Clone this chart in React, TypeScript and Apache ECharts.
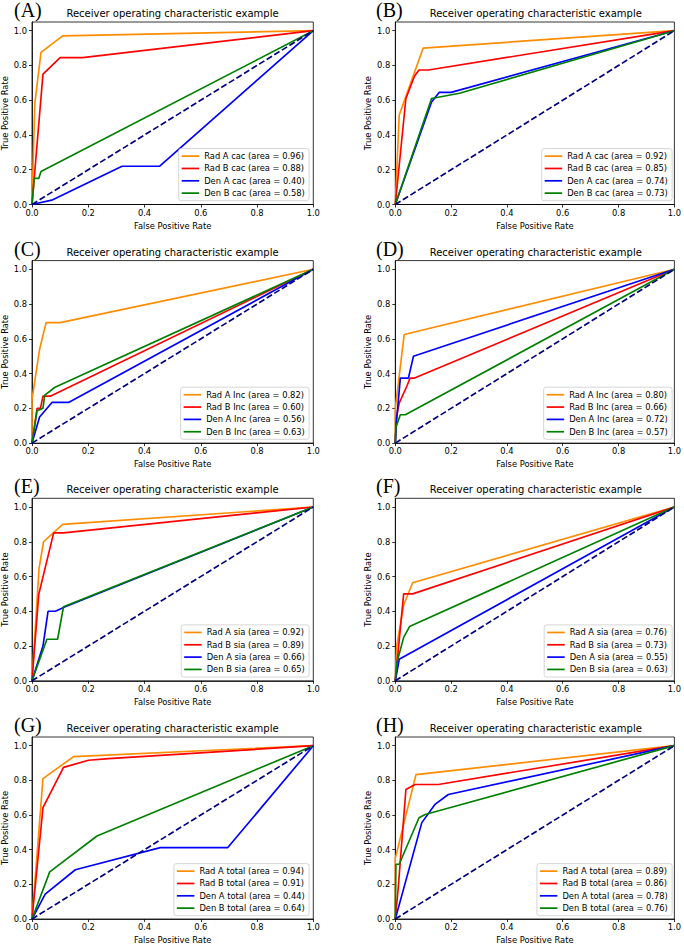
import React, { useEffect, useRef } from "react";
import * as echarts from "echarts";

type Pt = [number, number];

// ---------- data ----------
const panelLetters = ["(A)", "(B)", "(C)", "(D)", "(E)", "(F)", "(G)", "(H)"];
const featureNames = ["cac", "cac", "Inc", "Inc", "sia", "sia", "total", "total"];
const readerNames = ["Rad A", "Rad B", "Den A", "Den B"];
const chartTitle = "Receiver operating characteristic example";
const xTicks = [0, 0.2, 0.4, 0.6, 0.8, 1.0];
const yTicks = [0, 0.2, 0.4, 0.6, 0.8, 1.0];

const areasA = [0.96, 0.88, 0.4, 0.58];
const areasB = [0.92, 0.85, 0.74, 0.73];
const areasC = [0.82, 0.6, 0.56, 0.63];
const areasD = [0.8, 0.66, 0.72, 0.57];
const areasE = [0.92, 0.89, 0.66, 0.65];
const areasF = [0.76, 0.73, 0.55, 0.63];
const areasG = [0.94, 0.91, 0.44, 0.64];
const areasH = [0.89, 0.86, 0.78, 0.76];

const A_radA: Pt[] = [[0, 0], [0.01, 0.58], [0.032, 0.875], [0.109, 0.97], [1, 1]];
const A_radB: Pt[] = [[0, 0], [0.039, 0.75], [0.1, 0.845], [0.18, 0.845], [1, 1]];
const A_denA: Pt[] = [[0, 0], [0.07, 0.025], [0.32, 0.22], [0.453, 0.22], [1, 1]];
const A_denB: Pt[] = [[0, 0], [0.008, 0.15], [0.024, 0.15], [0.032, 0.19], [1, 1]];

const B_radA: Pt[] = [[0, 0], [0.014, 0.515], [0.1, 0.9], [1, 1]];
const B_radB: Pt[] = [[0, 0], [0.038, 0.61], [0.069, 0.739], [0.085, 0.774], [0.119, 0.774], [1, 1]];
const B_denA: Pt[] = [[0, 0], [0.13, 0.59], [0.157, 0.645], [0.2, 0.645], [1, 1]];
const B_denB: Pt[] = [[0, 0], [0.13, 0.61], [0.23, 0.64], [1, 1]];

const C_radA: Pt[] = [[0, 0], [0, 0.25], [0.027, 0.54], [0.05, 0.693], [0.1, 0.693], [1, 1]];
const C_radB: Pt[] = [[0, 0], [0.018, 0.2], [0.03, 0.2], [0.039, 0.27], [0.065, 0.27], [1, 1]];
const C_denA: Pt[] = [[0, 0], [0.027, 0.15], [0.071, 0.234], [0.13, 0.234], [1, 1]];
const C_denB: Pt[] = [[0, 0], [0.018, 0.186], [0.039, 0.2], [0.045, 0.276], [0.065, 0.3], [0.08, 0.32], [1, 1]];

const D_radA: Pt[] = [[0, 0], [0, 0.2], [0.032, 0.625], [1, 1]];
const D_radB: Pt[] = [[0, 0], [0.004, 0.15], [0.014, 0.23], [0.042, 0.33], [0.053, 0.374], [0.069, 0.374], [1, 1]];
const D_denA: Pt[] = [[0, 0], [0.004, 0.12], [0.018, 0.374], [0.047, 0.374], [0.065, 0.5], [1, 1]];
const D_denB: Pt[] = [[0, 0], [0.002, 0.09], [0.018, 0.163], [0.036, 0.163], [1, 1]];

const E_radA: Pt[] = [[0, 0], [0.025, 0.646], [0.041, 0.8], [0.109, 0.9], [1, 1]];
const E_radB: Pt[] = [[0, 0], [0.024, 0.497], [0.077, 0.851], [0.112, 0.851], [1, 1]];
const E_denA: Pt[] = [[0, 0], [0.039, 0.2], [0.057, 0.4], [0.083, 0.4], [0.118, 0.426], [1, 1]];
const E_denB: Pt[] = [[0, 0], [0.053, 0.239], [0.091, 0.239], [0.112, 0.426], [1, 1]];

const F_radA: Pt[] = [[0, 0], [0.005, 0.2], [0.03, 0.436], [0.062, 0.564], [1, 1]];
const F_radB: Pt[] = [[0, 0], [0.03, 0.5], [0.062, 0.5], [1, 1]];
const F_denA: Pt[] = [[0, 0], [0.014, 0.124], [1, 1]];
const F_denB: Pt[] = [[0, 0], [0.005, 0.1], [0.03, 0.25], [0.051, 0.312], [1, 1]];

const G_radA: Pt[] = [[0, 0], [0.039, 0.81], [0.148, 0.937], [1, 1]];
const G_radB: Pt[] = [[0, 0], [0.039, 0.642], [0.112, 0.875], [0.201, 0.916], [0.272, 0.925], [1, 1]];
const G_denA: Pt[] = [[0, 0], [0.047, 0.144], [0.154, 0.284], [0.456, 0.412], [0.696, 0.412], [1, 1]];
const G_denB: Pt[] = [[0, 0], [0.063, 0.272], [0.231, 0.479], [1, 1]];

const H_radA: Pt[] = [[0, 0], [0, 0.35], [0.074, 0.833], [1, 1]];
const H_radB: Pt[] = [[0, 0], [0.01, 0.17], [0.038, 0.747], [0.071, 0.776], [0.154, 0.776], [1, 1]];
const H_denA: Pt[] = [[0, 0], [0.095, 0.556], [0.142, 0.661], [0.19, 0.718], [1, 1]];
const H_denB: Pt[] = [[0, 0], [0.002, 0.316], [0.014, 0.316], [0.085, 0.584], [0.107, 0.603], [1, 1]];

const chanceLine: Pt[] = [[0, 0], [1, 1]];

const panelCurves: Pt[][][] = [
  [A_radA, A_radB, A_denA, A_denB],
  [B_radA, B_radB, B_denA, B_denB],
  [C_radA, C_radB, C_denA, C_denB],
  [D_radA, D_radB, D_denA, D_denB],
  [E_radA, E_radB, E_denA, E_denB],
  [F_radA, F_radB, F_denA, F_denB],
  [G_radA, G_radB, G_denA, G_denB],
  [H_radA, H_radB, H_denA, H_denB],
];
const panelAreas = [areasA, areasB, areasC, areasD, areasE, areasF, areasG, areasH];

// ---------- styling / layout ----------
const W = 684;
const H = 945;
const curveColors = ["#FF8C00", "#FF0000", "#0000FF", "#008000"];
const colLeft = [31.7, 395.3];
const colWidth = [281.6, 281];
const rowTop = [22, 260.6, 498.3, 737];
const plotH = 182.5;
const FS = 8.34;
const FONT = '"DejaVu Sans", sans-serif';

function buildOption() {
  const grid: any[] = [];
  const xAxis: any[] = [];
  const yAxis: any[] = [];
  const series: any[] = [];
  const legend: any[] = [];
  const graphic: any[] = [];

  for (let i = 0; i < 8; i++) {
    const col = i % 2;
    const row = Math.floor(i / 2);
    const left = colLeft[col];
    const width = colWidth[col];
    const top = rowTop[row];
    grid.push({
      left,
      top,
      width,
      height: plotH,
      show: true,
      borderColor: "#000",
      borderWidth: 0.8,
      backgroundColor: "transparent",
      containLabel: false,
    });
    xAxis.push({
      type: "value",
      gridIndex: i,
      min: 0,
      max: 1,
      interval: 0.2,
      name: "False Positive Rate",
      nameLocation: "middle",
      nameGap: 17,
      nameTextStyle: { fontSize: FS, fontFamily: FONT, color: "#000" },
      axisLine: { show: true, onZero: false, lineStyle: { color: "#000", width: 0.8 } },
      axisTick: { show: true, inside: false, length: 3, lineStyle: { color: "#000", width: 0.8 }, customValues: xTicks },
      axisLabel: {
        show: true,
        margin: 4,
        fontSize: FS,
        fontFamily: FONT,
        color: "#000",
        customValues: xTicks,
        formatter: (v: number) => v.toFixed(1),
      },
      splitLine: { show: false },
    });
    yAxis.push({
      type: "value",
      gridIndex: i,
      min: 0,
      max: 1.05,
      name: "True Positive Rate",
      nameLocation: "middle",
      nameGap: 23,
      nameTextStyle: { fontSize: FS, fontFamily: FONT, color: "#000" },
      axisLine: { show: true, onZero: false, lineStyle: { color: "#000", width: 0.8 } },
      axisTick: { show: true, inside: false, length: 3, lineStyle: { color: "#000", width: 0.8 }, customValues: yTicks },
      axisLabel: {
        show: true,
        margin: 5,
        fontSize: FS,
        fontFamily: FONT,
        color: "#000",
        customValues: yTicks,
        formatter: (v: number) => v.toFixed(1),
      },
      splitLine: { show: false },
    });

    const names: string[] = [];
    panelCurves[i].forEach((pts, k) => {
      const name = `${readerNames[k]} ${featureNames[i]} (area = ${panelAreas[i][k].toFixed(2)})`;
      names.push(name);
      series.push({
        type: "line",
        name,
        xAxisIndex: i,
        yAxisIndex: i,
        data: pts,
        symbol: "none",
        lineStyle: { color: curveColors[k], width: 1.67 },
        itemStyle: { color: curveColors[k] },
        silent: true,
        z: 2 + k * 0.01,
      });
    });
    series.push({
      type: "line",
      name: `chance ${i}`,
      xAxisIndex: i,
      yAxisIndex: i,
      data: chanceLine,
      symbol: "none",
      lineStyle: { color: "#000080", width: 1.67, type: [6.2, 2.7] },
      silent: true,
      z: 3,
    });

    const plotRight = left + width;
    const plotBottom = top + plotH;
    legend.push({
      data: names,
      orient: "vertical",
      right: W - (plotRight - 4.2),
      bottom: H - (plotBottom - 3.8),
      icon: "rect",
      itemWidth: 17.5,
      itemHeight: 1.7,
      itemGap: 0,
      padding: [1.4, 4.3, 1.4, 3],
      selectedMode: false,
      backgroundColor: "rgba(255,255,255,0.8)",
      borderColor: "#cccccc",
      borderWidth: 0.8,
      borderRadius: 2.5,
      textStyle: { fontSize: FS, fontFamily: FONT, color: "#000", lineHeight: 12.33 },
    });

    graphic.push({
      type: "text",
      x: left + width / 2,
      y: top - 8.5,
      style: {
        text: chartTitle,
        font: `10px ${FONT}`,
        fill: "#000",
        align: "center",
        verticalAlign: "middle",
        textAlign: "center",
        textVerticalAlign: "middle",
      },
      silent: true,
    });
    graphic.push({
      type: "text",
      x: col === 0 ? 14 : 376,
      y: top - 12,
      style: {
        text: panelLetters[i],
        font: '20px "Liberation Serif", "Times New Roman", serif',
        fill: "#000",
        align: "left",
        verticalAlign: "middle",
        textAlign: "left",
        textVerticalAlign: "middle",
      },
      silent: true,
    });
  }

  return {
    animation: false,
    backgroundColor: "#ffffff",
    grid,
    xAxis,
    yAxis,
    series,
    legend,
    graphic,
  };
}

export default function App() {
  const ref = useRef<HTMLDivElement>(null);
  useEffect(() => {
    if (!ref.current) return;
    const chart = echarts.init(ref.current, undefined, { renderer: "svg", width: W, height: H });
    chart.setOption(buildOption() as any);
    return () => {
      chart.dispose();
    };
  }, []);
  return (
    <div
      ref={ref}
      style={{ position: "absolute", left: 0, top: 0, width: W, height: H, background: "#fff" }}
    />
  );
}
